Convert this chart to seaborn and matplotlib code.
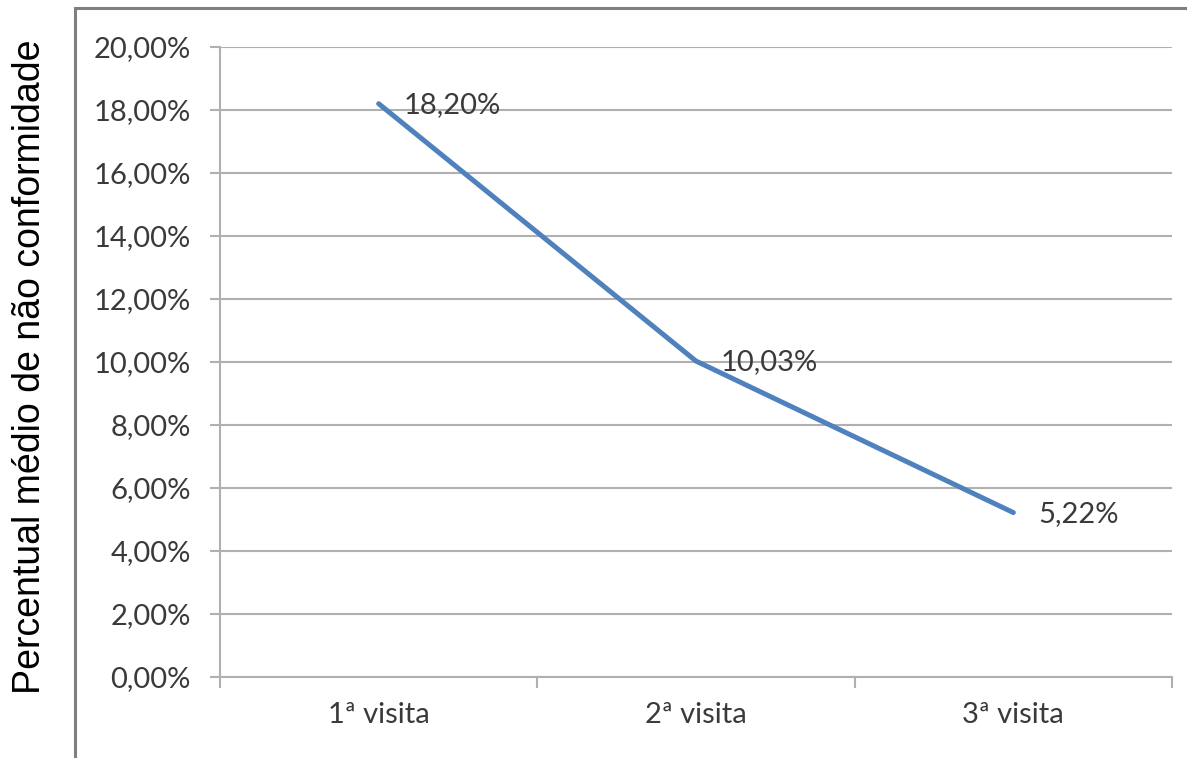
import matplotlib
matplotlib.use("Agg")
import matplotlib.pyplot as plt
import matplotlib.patches as mpatches
from matplotlib.ticker import FixedLocator
import seaborn as sns
import pandas as pd

categories = ["1ª visita", "2ª visita", "3ª visita"]
values = [18.20, 10.03, 5.22]
value_labels = ["18,20%", "10,03%", "5,22%"]
yticks = [0, 2, 4, 6, 8, 10, 12, 14, 16, 18, 20]
ytick_labels = ["0,00%", "2,00%", "4,00%", "6,00%", "8,00%", "10,00%",
                "12,00%", "14,00%", "16,00%", "18,00%", "20,00%"]
ylabel = "Percentual médio de não conformidade"

sns.set_theme(style="white")
plt.rcParams['font.family'] = ['Lato', 'DejaVu Sans']

W, H = 1187, 758
fig = plt.figure(figsize=(W / 100, H / 100), dpi=100)
ax = fig.add_axes([220 / W, 1 - 677 / H, (1172 - 220) / W, (677 - 47) / H])

df = pd.DataFrame({"x": list(range(len(categories))), "y": values})
sns.lineplot(data=df, x="x", y="y", ax=ax, color="#4F81BD", linewidth=3.6,
             solid_capstyle="round")

ax.set_xlim(-0.5, len(categories) - 0.5)
ax.set_ylim(0, 20)
ax.set_yticks(yticks)
ax.set_yticklabels(ytick_labels)
ax.set_xticks(range(len(categories)))
ax.set_xticklabels(categories)
ax.xaxis.set_minor_locator(FixedLocator([i - 0.5 for i in range(len(categories) + 1)]))
ax.set_xlabel("")
ax.set_ylabel("")

gray = "#B0B0B0"
tcol = "#3A3A3A"
ax.grid(axis="y", color=gray, linewidth=1.5)
ax.grid(axis="x", visible=False)
ax.set_axisbelow(True)
for s in ["top", "right"]:
    ax.spines[s].set_visible(False)
for s in ["left", "bottom"]:
    ax.spines[s].set_color(gray)
    ax.spines[s].set_linewidth(1.5)

ax.tick_params(axis="y", which="major", left=True, length=7, width=1.5, color=gray,
               pad=14, labelsize=21, labelcolor=tcol)
ax.tick_params(axis="x", which="major", bottom=False, length=0, pad=18,
               labelsize=21, labelcolor=tcol)
ax.tick_params(axis="x", which="minor", bottom=True, length=8, width=1.5, color=gray)

for i, (v, lab) in enumerate(zip(values, value_labels)):
    ax.annotate(lab, (i, v), xytext=(18, -1), textcoords="offset points",
                ha="left", va="center", fontsize=21, color=tcol)

fig.text(30 / W, 1 - 367 / H, ylabel, rotation=90, ha="center", va="center",
         fontsize=27, color="black", family=["Liberation Sans", "DejaVu Sans"])

box = mpatches.Rectangle((75 / W, -0.1), 1.2, 1 - 8 / H + 0.1, transform=fig.transFigure,
                         fill=False, edgecolor="#7F7F7F", linewidth=2.2)
fig.patches.append(box)

fig.savefig("out.png", dpi=100)
